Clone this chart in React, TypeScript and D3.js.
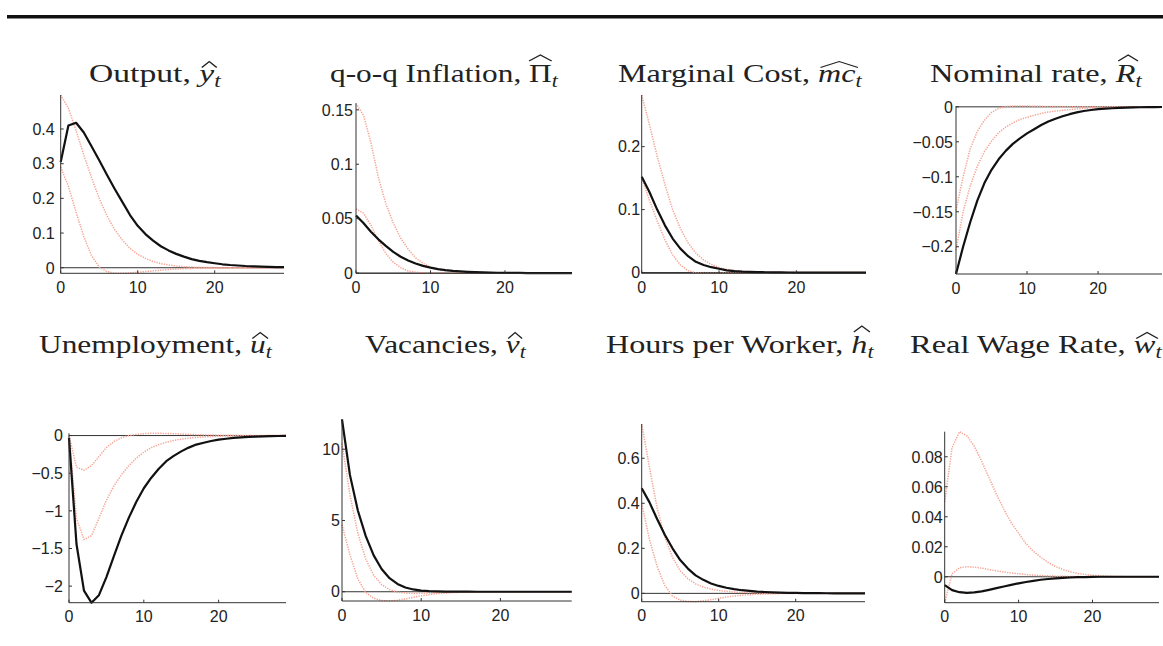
import { useEffect, useRef } from 'react';
import * as d3 from 'd3';

// quarters after the shock
const periods = d3.range(30);
const xTicks = [0, 10, 20];

// Output
const outputMean = [0.305, 0.41, 0.418, 0.39, 0.35, 0.31, 0.268, 0.228, 0.19, 0.152, 0.121, 0.097, 0.078, 0.062, 0.05, 0.04, 0.032, 0.025, 0.02, 0.016, 0.013, 0.01, 0.008, 0.0065, 0.005, 0.004, 0.0032, 0.0025, 0.002, 0.0016];
const outputHi = [0.498, 0.46, 0.395, 0.325, 0.26, 0.2, 0.15, 0.11, 0.08, 0.056, 0.039, 0.027, 0.018, 0.012, 0.008, 0.005, 0.003, 0.002, 0.0012, 0.0007, 0.0004, 0.0002, 0.0001, 0, 0, 0, 0, 0, 0, 0];
const outputLo = [0.29, 0.235, 0.16, 0.09, 0.035, 0.002, -0.011, -0.016, -0.016, -0.015, -0.013, -0.011, -0.009, -0.007, -0.005, -0.0038, -0.0028, -0.002, -0.0014, -0.001, -0.0007, -0.0005, -0.0003, -0.0002, -0.0001, 0, 0, 0, 0, 0];
const outputTicks = [0, 0.1, 0.2, 0.3, 0.4];

// q-o-q inflation
const inflMean = [0.053, 0.046, 0.038, 0.031, 0.025, 0.0195, 0.015, 0.0115, 0.0088, 0.0066, 0.005, 0.0037, 0.0027, 0.002, 0.0015, 0.0011, 0.0008, 0.0006, 0.0004, 0.0003, 0.0002, 0.00015, 0.0001, 0, 0, 0, 0, 0, 0, 0];
const inflHi = [0.156, 0.145, 0.12, 0.088, 0.064, 0.046, 0.032, 0.022, 0.014, 0.009, 0.0055, 0.0035, 0.0022, 0.0014, 0.0009, 0.0005, 0.0003, 0.0002, 0.0001, 0, 0, 0, 0, 0, 0, 0, 0, 0, 0, 0];
const inflLo = [0.059, 0.055, 0.044, 0.03, 0.018, 0.01, 0.005, 0.002, 0.0008, 0.0002, -0.0001, -0.0002, -0.0002, -0.0001, 0, 0, 0, 0, 0, 0, 0, 0, 0, 0, 0, 0, 0, 0, 0, 0];
const inflTicks = [0, 0.05, 0.1, 0.15];

// marginal cost
const mcMean = [0.152, 0.128, 0.1, 0.075, 0.054, 0.038, 0.026, 0.017, 0.012, 0.0085, 0.006, 0.0035, 0.0024, 0.0016, 0.0011, 0.0007, 0.0005, 0.0003, 0.0002, 0.0001, 0, 0, 0, 0, 0, 0, 0, 0, 0, 0];
const mcHi = [0.282, 0.235, 0.185, 0.14, 0.1, 0.07, 0.047, 0.031, 0.02, 0.013, 0.008, 0.005, 0.003, 0.002, 0.0012, 0.0007, 0.0004, 0.0002, 0.0001, 0, 0, 0, 0, 0, 0, 0, 0, 0, 0, 0];
const mcLo = [0.15, 0.115, 0.082, 0.052, 0.028, 0.012, 0.003, -0.0005, -0.0012, -0.0012, -0.001, -0.0008, -0.0006, -0.0004, -0.0003, -0.0002, -0.0001, 0, 0, 0, 0, 0, 0, 0, 0, 0, 0, 0, 0, 0];
const mcTicks = [0, 0.1, 0.2];

// nominal rate
const rateMean = [-0.239, -0.2, -0.165, -0.134, -0.109, -0.09, -0.075, -0.063, -0.053, -0.045, -0.038, -0.032, -0.026, -0.021, -0.017, -0.0135, -0.0105, -0.008, -0.006, -0.0045, -0.0034, -0.0026, -0.002, -0.0015, -0.0011, -0.0008, -0.0006, -0.0004, -0.0003, -0.0002];
const rateHi = [-0.148, -0.1, -0.06, -0.035, -0.019, -0.008, -0.002, 0.0005, 0.001, 0.0012, 0.0011, 0.0009, 0.0007, 0.0005, 0.0004, 0.0003, 0.0002, 0.0001, 0, 0, 0, 0, 0, 0, 0, 0, 0, 0, 0, 0];
const rateLo = [-0.205, -0.15, -0.113, -0.085, -0.064, -0.049, -0.037, -0.029, -0.023, -0.018, -0.015, -0.012, -0.0095, -0.0075, -0.006, -0.005, -0.004, -0.003, -0.0022, -0.0016, -0.0012, -0.0009, -0.0007, -0.0005, -0.0004, -0.0003, -0.0002, -0.0001, 0, 0];
const rateTicks = [0, -0.05, -0.1, -0.15, -0.2];

// unemployment
const unempMean = [-0.03, -1.44, -2.06, -2.22, -2.12, -1.88, -1.6, -1.33, -1.09, -0.88, -0.7, -0.56, -0.44, -0.34, -0.27, -0.21, -0.16, -0.12, -0.095, -0.072, -0.055, -0.042, -0.032, -0.024, -0.018, -0.014, -0.01, -0.008, -0.006, -0.004];
const unempHi = [0, -0.42, -0.46, -0.4, -0.28, -0.16, -0.08, -0.03, 0, 0.015, 0.025, 0.03, 0.03, 0.028, 0.025, 0.02, 0.016, 0.012, 0.009, 0.007, 0.005, 0.004, 0.003, 0.002, 0.0015, 0.001, 0.0007, 0.0005, 0.0003, 0.0002];
const unempLo = [0, -1.1, -1.38, -1.33, -1.1, -0.86, -0.67, -0.52, -0.4, -0.3, -0.22, -0.16, -0.12, -0.09, -0.065, -0.048, -0.035, -0.025, -0.018, -0.013, -0.009, -0.006, -0.004, -0.003, -0.002, -0.0015, -0.001, -0.0007, -0.0005, -0.0003];
const unempTicks = [0, -0.5, -1, -1.5, -2];

// vacancies
const vacMean = [12.1, 8.2, 5.7, 3.9, 2.55, 1.6, 0.95, 0.55, 0.3, 0.16, 0.08, 0.04, 0.02, 0.01, 0.005, 0.002, 0.001, 0, 0, 0, 0, 0, 0, 0, 0, 0, 0, 0, 0, 0];
const vacHi = [10.4, 6.8, 4.1, 2.3, 1.15, 0.5, 0.15, -0.03, -0.1, -0.12, -0.11, -0.09, -0.07, -0.05, -0.035, -0.025, -0.017, -0.011, -0.007, -0.004, -0.002, -0.001, 0, 0, 0, 0, 0, 0, 0, 0];
const vacLo = [4.7, 2.6, 0.9, -0.05, -0.45, -0.62, -0.65, -0.6, -0.5, -0.39, -0.29, -0.2, -0.14, -0.09, -0.06, -0.04, -0.025, -0.015, -0.009, -0.005, -0.003, -0.002, -0.001, 0, 0, 0, 0, 0, 0, 0];
const vacTicks = [0, 5, 10];

// hours per worker
const hoursMean = [0.467, 0.405, 0.33, 0.26, 0.2, 0.148, 0.11, 0.08, 0.06, 0.044, 0.033, 0.025, 0.019, 0.014, 0.011, 0.008, 0.006, 0.0045, 0.0034, 0.0025, 0.0019, 0.0014, 0.001, 0.0008, 0.0006, 0.0004, 0.0003, 0.0002, 0.0002, 0.0001];
const hoursHi = [0.752, 0.56, 0.38, 0.25, 0.16, 0.1, 0.065, 0.042, 0.028, 0.019, 0.013, 0.009, 0.006, 0.004, 0.003, 0.002, 0.001, 0.0006, 0.0003, 0.0001, 0, 0, 0, 0, 0, 0, 0, 0, 0, 0];
const hoursLo = [0.4, 0.24, 0.12, 0.035, -0.012, -0.03, -0.036, -0.037, -0.033, -0.028, -0.022, -0.016, -0.012, -0.008, -0.006, -0.004, -0.003, -0.002, -0.001, -0.0005, 0, 0, 0, 0, 0, 0, 0, 0, 0, 0];
const hoursTicks = [0, 0.2, 0.4, 0.6];

// real wage
const wageMean = [-0.0056, -0.0089, -0.0103, -0.0107, -0.0104, -0.0097, -0.0087, -0.0076, -0.0065, -0.0054, -0.0044, -0.0035, -0.0027, -0.002, -0.0015, -0.0011, -0.0008, -0.0005, -0.0003, -0.0002, -0.0001, 0, 0, 0, 0, 0, 0, 0, 0, 0];
const wageHi = [0.05, 0.086, 0.0967, 0.094, 0.087, 0.077, 0.066, 0.055, 0.045, 0.036, 0.029, 0.022, 0.017, 0.013, 0.0095, 0.0068, 0.0048, 0.0033, 0.0022, 0.0015, 0.001, 0.0006, 0.0004, 0.0002, 0.0001, 0, 0, 0, 0, 0];
const wageLo = [-0.0173, 0.002, 0.006, 0.0067, 0.0065, 0.0057, 0.0048, 0.0039, 0.0032, 0.0025, 0.002, 0.0015, 0.0011, 0.0008, 0.0006, 0.0004, 0.0003, 0.0002, 0.0001, 0, 0, 0, 0, 0, 0, 0, 0, 0, 0, 0];
const wageTicks = [0, 0.02, 0.04, 0.06, 0.08];

const SERIF = '"Liberation Serif", "Times New Roman", serif';
const SANS = '"Liberation Sans", Arial, Helvetica, sans-serif';

const panels = [
  { label: 'Output, ', sym: 'y', tall: false, upright: false, mean: outputMean, hi: outputHi, lo: outputLo, ticks: outputTicks,
    box: [60.7, 284, 95, 273.3], gap: 6, title: [89, 222, 82] },
  { label: 'q-o-q Inflation, ', sym: '\u03A0', tall: true, upright: true, mean: inflMean, hi: inflHi, lo: inflLo, ticks: inflTicks,
    box: [356, 572, 103.3, 273.3], gap: 3, title: [330, 559, 82] },
  { label: 'Marginal Cost, ', sym: 'mc', tall: false, upright: false, mean: mcMean, hi: mcHi, lo: mcLo, ticks: mcTicks,
    box: [641.7, 866, 95, 273.3], gap: 1.5, title: [618, 863, 82] },
  { label: 'Nominal rate, ', sym: 'R', tall: true, upright: false, mean: rateMean, hi: rateHi, lo: rateLo, ticks: rateTicks,
    box: [956, 1162, 106, 274], gap: 3, title: [930, 1143, 82] },
  { label: 'Unemployment, ', sym: 'u', tall: false, upright: false, mean: unempMean, hi: unempHi, lo: unempLo, ticks: unempTicks,
    box: [69, 286, 433.3, 602.7], gap: 6, title: [39, 273, 353] },
  { label: 'Vacancies, ', sym: 'v', tall: false, upright: false, mean: vacMean, hi: vacHi, lo: vacLo, ticks: vacTicks,
    box: [342, 571.7, 419.3, 601], gap: 2, title: [365, 527, 353] },
  { label: 'Hours per Worker, ', sym: 'h', tall: true, upright: false, mean: hoursMean, hi: hoursHi, lo: hoursLo, ticks: hoursTicks,
    box: [641.7, 865, 424, 601.7], gap: 2, title: [606, 875, 353] },
  { label: 'Real Wage Rate, ', sym: 'w', tall: false, upright: false, mean: wageMean, hi: wageHi, lo: wageLo, ticks: wageTicks,
    box: [944.7, 1159, 431.7, 602.7], gap: 2, title: [910, 1163, 353] },
];

function tickText(v: number) {
  if (v === 0) return '0';
  return (v < 0 ? '\u2212' : '') + String(Math.abs(v));
}

export default function App() {
  const svgRef = useRef<SVGSVGElement>(null);

  useEffect(() => {
    if (!svgRef.current) return;
    const svg = d3.select(svgRef.current);
    svg.selectAll('*').remove();

    // heavy rule across the top
    svg.append('rect')
      .attr('x', 7).attr('y', 15)
      .attr('width', 1156).attr('height', 3.5)
      .attr('fill', '#111');

    panels.forEach(p => {
      const [left, right, top, bottom] = p.box;
      const all = [...p.mean, ...p.hi, ...p.lo];
      const x = d3.scaleLinear().domain([0, 29]).range([left, right]);
      const y = d3.scaleLinear().domain(d3.extent(all) as [number, number]).range([bottom, top]);
      const g = svg.append('g');

      const line = d3.line<number>()
        .x((_, i) => x(periods[i]))
        .y(d => y(d));

      // zero line
      g.append('line')
        .attr('x1', left).attr('x2', right)
        .attr('y1', y(0)).attr('y2', y(0))
        .attr('stroke', '#333').attr('stroke-width', 1);

      [p.hi, p.lo].forEach(band => {
        g.append('path')
          .attr('d', line(band))
          .attr('fill', 'none')
          .attr('stroke', '#f5a494')
          .attr('stroke-width', 1.5)
          .attr('stroke-dasharray', '1.3 1.2');
      });

      g.append('path')
        .attr('d', line(p.mean))
        .attr('fill', 'none')
        .attr('stroke', '#111')
        .attr('stroke-width', 2.2)
        .attr('stroke-linejoin', 'round');

      // axes (box off, ticks inside)
      g.append('line')
        .attr('x1', left).attr('x2', left).attr('y1', top).attr('y2', bottom)
        .attr('stroke', '#333').attr('stroke-width', 1);
      g.append('line')
        .attr('x1', left).attr('x2', right).attr('y1', bottom).attr('y2', bottom)
        .attr('stroke', '#333').attr('stroke-width', 1);

      p.ticks.forEach(v => {
        g.append('line')
          .attr('x1', left).attr('x2', left + 3)
          .attr('y1', y(v)).attr('y2', y(v))
          .attr('stroke', '#333');
        g.append('text')
          .attr('x', left - p.gap).attr('y', y(v)).attr('dy', '0.36em')
          .attr('text-anchor', 'end')
          .attr('font-family', SANS).attr('font-size', 16).attr('fill', '#222')
          .text(tickText(v));
      });

      xTicks.forEach(v => {
        g.append('line')
          .attr('x1', x(v)).attr('x2', x(v))
          .attr('y1', bottom).attr('y2', bottom - 3)
          .attr('stroke', '#333');
        g.append('text')
          .attr('x', x(v)).attr('y', bottom + 19.5)
          .attr('text-anchor', 'middle')
          .attr('font-family', SANS).attr('font-size', 16).attr('fill', '#222')
          .text(v);
      });

      // title: roman label, hatted symbol, subscript t
      const [tx0, tx1, base] = p.title;
      const tg = svg.append('g');
      const text = tg.append('text')
        .attr('font-family', SERIF).attr('font-size', 26).attr('fill', '#222')
        .style('white-space', 'pre');
      text.append('tspan').text(p.label);
      text.append('tspan').attr('font-style', p.upright ? 'normal' : 'italic').text(p.sym);
      text.append('tspan').attr('font-style', 'italic').attr('font-size', 18).attr('dy', 5).text('t');

      const node = text.node() as SVGTextElement;
      const bb = node.getBBox();
      const sx = (tx1 - tx0) / bb.width;
      tg.attr('transform', `translate(${tx0 - bb.x * sx},${base}) scale(${sx},1)`);

      let hx0 = Infinity;
      let hx1 = -Infinity;
      for (let i = p.label.length; i < p.label.length + p.sym.length; i++) {
        const e = node.getExtentOfChar(i);
        hx0 = Math.min(hx0, e.x);
        hx1 = Math.max(hx1, e.x + e.width);
      }
      const slant = p.upright ? 0 : 2;
      const yb = p.tall ? -21 : -14.5;
      const ya = p.tall ? -27 : -20.5;
      tg.append('path')
        .attr('d', `M${hx0 + slant},${yb} L${(hx0 + hx1) / 2 + slant},${ya} L${hx1 + slant},${yb}`)
        .attr('fill', 'none')
        .attr('stroke', '#222')
        .attr('stroke-width', 1.1);
    });
  }, []);

  return (
    <svg
      ref={svgRef}
      width={1163}
      height={646}
      style={{ position: 'absolute', left: 0, top: 0, background: '#fff' }}
    />
  );
}
